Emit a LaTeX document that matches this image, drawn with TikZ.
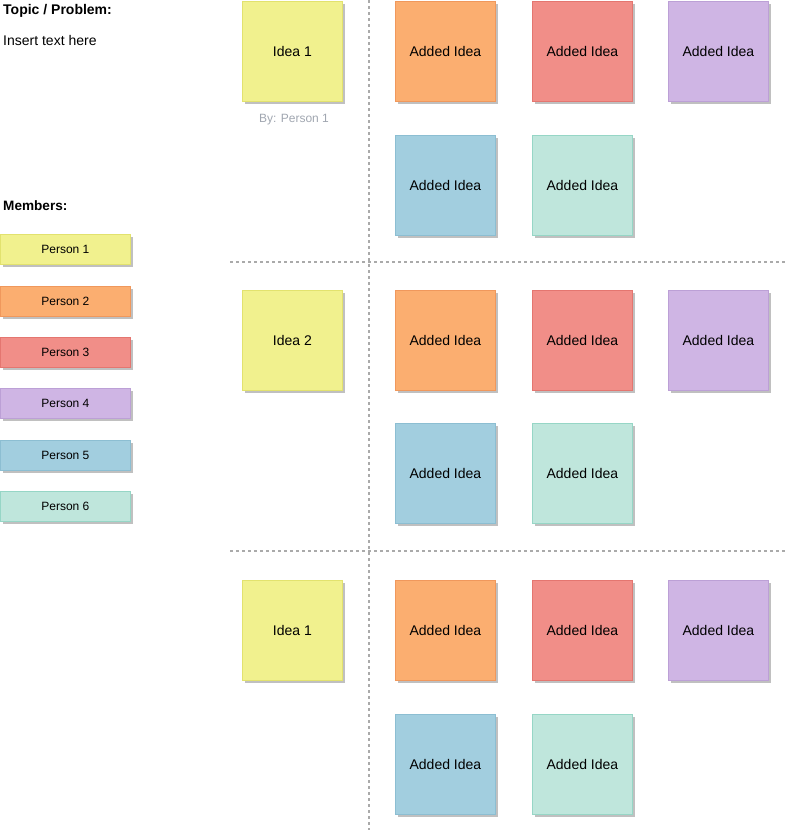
\documentclass[tikz,border=0pt]{standalone}
\usepackage{fontspec}
\setmainfont{Liberation Sans}
\usetikzlibrary{shadows}
\definecolor{yelF}{RGB}{241,241,142}\definecolor{yelD}{RGB}{226,226,110}
\definecolor{oraF}{RGB}{251,174,112}\definecolor{oraD}{RGB}{240,152,92}
\definecolor{redF}{RGB}{241,142,136}\definecolor{redD}{RGB}{228,118,112}
\definecolor{purF}{RGB}{207,181,228}\definecolor{purD}{RGB}{188,160,214}
\definecolor{bluF}{RGB}{162,206,223}\definecolor{bluD}{RGB}{140,190,210}
\definecolor{minF}{RGB}{191,230,220}\definecolor{minD}{RGB}{150,214,198}
\definecolor{shd}{RGB}{192,192,192}
\definecolor{sep}{RGB}{170,170,170}
\definecolor{byc}{RGB}{160,166,176}
\tikzset{
  note/.style={anchor=north west, minimum width=100pt, minimum height=100pt, inner sep=0pt, line width=0.8pt,
    drop shadow={shadow xshift=3pt, shadow yshift=-3pt, fill=shd, opacity=1},
    font=\fontsize{14}{16}\selectfont, text depth=0pt},
  member/.style={anchor=north west, minimum width=130pt, minimum height=30pt, inner sep=0pt, line width=0.8pt,
    drop shadow={shadow xshift=3pt, shadow yshift=-3pt, fill=shd, opacity=1},
    font=\fontsize{12}{14}\selectfont, text depth=0pt},
  yel/.style={fill=yelF, draw=yelD}, ora/.style={fill=oraF, draw=oraD},
  redn/.style={fill=redF, draw=redD}, pur/.style={fill=purF, draw=purD},
  blu/.style={fill=bluF, draw=bluD}, mint/.style={fill=minF, draw=minD},
  sepline/.style={draw=sep, line width=1.5pt, dash pattern=on 3pt off 3pt},
  plain/.style={anchor=west, inner sep=0pt}
}
\begin{document}
\begin{tikzpicture}[x=1pt,y=-1pt]
\useasboundingbox (0,0) rectangle (785,830);
% separators
\coordinate (vt) at (369,0); \coordinate (vb) at (369,830);
\coordinate (h1l) at (230,262); \coordinate (h1r) at (785,262);
\coordinate (h2l) at (230,551); \coordinate (h2r) at (785,551);
\draw[sepline] (vt) -- (vb);
\draw[sepline] (h1l) -- (h1r);
\draw[sepline] (h2l) -- (h2r);
% left column
\node[plain, font=\bfseries\fontsize{14}{16}\selectfont] (topic) at (3,11) {Topic / Problem:};
\node[plain, font=\fontsize{14}{16}\selectfont] (insert) at (3,40) {Insert text here};
\node[plain, font=\bfseries\fontsize{13.6}{15}\selectfont] (members) at (3,206) {Members:};
\node[member, yel] (p1) at (0,234) {Person 1};
\node[member, ora] (p2) at (0,286) {Person 2};
\node[member, redn] (p3) at (0,337) {Person 3};
\node[member, pur] (p4) at (0,388) {Person 4};
\node[member, blu] (p5) at (0,440) {Person 5};
\node[member, mint] (p6) at (0,491) {Person 6};
% section 1
\node[note, yel] (i1) at (242,1) {Idea 1};
\node[font=\fontsize{12}{14}\selectfont, text=byc, inner sep=0pt] (by) at (294,120) {By: Person 1};
\node[note, ora] (a11) at (395,1) {Added Idea};
\node[note, redn] (a12) at (532,1) {Added Idea};
\node[note, pur] (a13) at (668,1) {Added Idea};
\node[note, blu] (a14) at (395,135) {Added Idea};
\node[note, mint] (a15) at (532,135) {Added Idea};
% section 2
\node[note, yel] (i2) at (242,290) {Idea 2};
\node[note, ora] (a21) at (395,290) {Added Idea};
\node[note, redn] (a22) at (532,290) {Added Idea};
\node[note, pur] (a23) at (668,290) {Added Idea};
\node[note, blu] (a24) at (395,423) {Added Idea};
\node[note, mint] (a25) at (532,423) {Added Idea};
% section 3
\node[note, yel] (i3) at (242,580) {Idea 1};
\node[note, ora] (a31) at (395,580) {Added Idea};
\node[note, redn] (a32) at (532,580) {Added Idea};
\node[note, pur] (a33) at (668,580) {Added Idea};
\node[note, blu] (a34) at (395,714) {Added Idea};
\node[note, mint] (a35) at (532,714) {Added Idea};
\end{tikzpicture}
\end{document}
